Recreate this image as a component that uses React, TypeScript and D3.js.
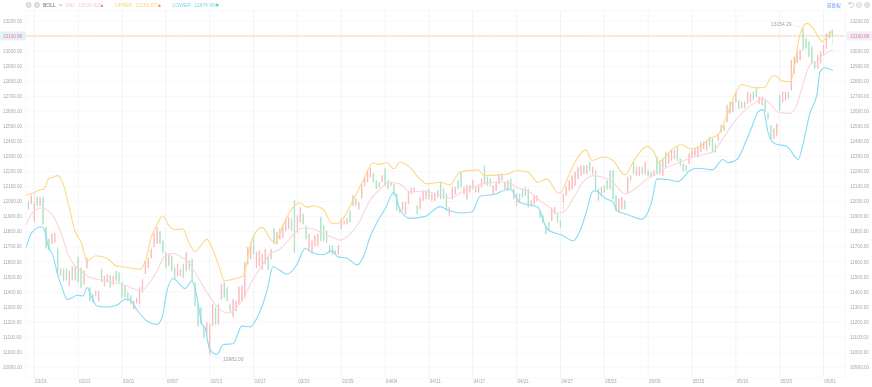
import React from "react";
import * as d3 from "d3";

const opens = [
  12000,11985,11870,12030,11975,12030,11830,11750,11720,11730,
  11685,11510,11550,11550,11440,11570,11480,11630,11560,11450,
  11560,11430,11385,11375,11340,11550,11440,11465,11510,11450,
  11540,11530,11465,11440,11395,11375,11285,11325,11320,11400,
  11520,11560,11625,11700,11720,11800,11740,11662,11575,11640,
  11562,11507,11507,11585,11540,11607,11618,11462,11318,11296,
  11174,11118,10985,11174,11296,11185,11351,11462,11429,11318,
  11234,11274,11318,11340,11363,11585,11618,11767,11562,11573,
  11551,11585,11640,11618,11820,11718,11751,11762,11807,11818,
  11885,12007,11796,11862,11918,11840,11674,11663,11707,11707,
  11896,11840,11807,11707,11707,11651,11651,11818,11851,11851,
  11940,11973,12018,11951,12022,12107,12129,12162,12189,12140,
  12129,12129,12218,12140,12107,12118,12051,11962,11940,11918,
  11984,12051,12062,11973,11951,12007,12018,12084,12007,12007,
  12029,12129,12084,12051,11907,12018,12051,12140,12195,12051,
  12018,12062,12084,12095,12062,12095,12240,12162,12151,12051,
  12073,12118,12184,12084,12140,12151,12084,11973,12051,12084,
  12095,12084,11973,11984,12007,11940,11907,11840,11862,11873,
  11918,11918,11873,11996,12040,12073,12084,12107,12151,12173,
  12240,12184,12262,12184,12206,12084,12040,12107,12140,12206,
  12206,12040,11929,11951,12007,12051,12140,12262,12173,12173,
  12229,12184,12206,12195,12173,12295,12273,12173,12329,12251,
  12273,12284,12362,12284,12251,12240,12251,12295,12306,12296,
  12329,12351,12340,12429,12418,12384,12406,12462,12506,12529,
  12662,12595,12662,12673,12622,12662,12651,12662,12728,12751,
  12651,12640,12673,12589,12506,12418,12440,12706,12662,12673,
  12728,12740,12851,12922,12940,13151,13084,13062,13029,12929,
  12884,12918,12973,13018,13129,13140,
];
const closes = [
  11950,12040,11990,11975,12025,11850,11690,11680,11785,11790,
  11520,11555,11475,11480,11540,11480,11570,11465,11430,11540,
  11625,11340,11330,11405,11405,11465,11505,11515,11430,11505,
  11475,11465,11365,11365,11340,11320,11340,11360,11430,11485,
  11605,11625,11685,11790,11829,11720,11662,11562,11651,11540,
  11485,11585,11551,11496,11662,11551,11474,11307,11174,11190,
  11096,11196,11185,11318,11185,11318,11451,11363,11340,11274,
  11351,11340,11434,11440,11596,11696,11729,11651,11662,11673,
  11651,11684,11551,11684,11720,11796,11818,11840,11885,11896,
  11807,11663,11907,11962,11851,11751,11785,11740,11774,11785,
  11740,11740,11729,11663,11651,11674,11711,11885,11873,11885,
  11862,12040,11973,11996,12118,12162,12195,12224,12129,12084,
  12095,12173,12107,12084,12129,12040,11940,11929,11996,11996,
  12062,12091,12091,11918,12029,12073,12073,12018,12051,12051,
  12073,12018,12018,11940,11962,12095,12095,12084,12095,12095,
  12107,12107,12140,12062,12107,12151,12118,12107,12107,12107,
  12129,12184,12140,12129,12073,12084,12018,12051,11996,12029,
  12040,11962,12007,12040,12040,11896,11862,11785,11807,11958,
  11962,11862,11829,12051,12100,12140,12173,12195,12229,12240,
  12184,12240,12206,12229,12073,12007,12095,12062,12084,12084,
  12018,11940,12018,12029,11951,12162,12173,12184,12229,12229,
  12184,12262,12173,12162,12206,12184,12184,12284,12229,12318,
  12344,12344,12273,12240,12206,12206,12318,12340,12351,12362,
  12395,12395,12406,12367,12329,12329,12451,12506,12473,12640,
  12584,12662,12728,12617,12662,12622,12728,12717,12677,12695,
  12695,12695,12595,12551,12418,12484,12517,12606,12728,12728,
  12684,12940,12962,12995,13007,13007,13018,12962,12918,12884,
  12973,12995,13040,13118,13084,13100.98,
];
const highs = [
  12010,12050,12062,12040,12030,12040,11840,11760,11790,11795,
  11700,11560,11560,11560,11545,11575,11575,11635,11565,11550,
  11630,11435,11390,11410,11410,11560,11510,11520,11515,11510,
  11545,11535,11470,11445,11400,11380,11345,11365,11435,11490,
  11610,11630,11695,11795,11835,11810,11745,11670,11655,11645,
  11570,11590,11556,11590,11668,11612,11625,11470,11325,11300,
  11180,11200,11190,11325,11300,11325,11456,11470,11435,11325,
  11356,11345,11440,11445,11600,11700,11735,11772,11668,11680,
  11655,11690,11645,11690,11825,11800,11825,11845,11890,11900,
  11890,12012,11912,11968,11925,11845,11790,11745,11780,11790,
  11900,11845,11812,11712,11712,11680,11716,11890,11878,11890,
  11945,12045,12025,12000,12125,12168,12200,12228,12195,12145,
  12135,12178,12225,12145,12135,12125,12055,11968,12000,12000,
  12068,12095,12098,11980,12035,12080,12078,12090,12056,12056,
  12078,12135,12090,12056,11968,12100,12100,12145,12200,12100,
  12112,12112,12145,12100,12112,12156,12245,12168,12156,12112,
  12135,12190,12190,12135,12145,12156,12090,12056,12056,12090,
  12100,12090,12012,12045,12045,11945,11912,11845,11868,11962,
  11968,11925,11880,12056,12105,12145,12180,12200,12235,12245,
  12245,12245,12268,12235,12212,12090,12100,12112,12145,12212,
  12212,12045,12025,12035,12012,12168,12178,12268,12235,12235,
  12235,12268,12212,12200,12212,12300,12280,12290,12335,12325,
  12350,12350,12368,12290,12258,12245,12325,12346,12356,12368,
  12400,12400,12412,12435,12425,12390,12456,12512,12512,12646,
  12668,12668,12735,12680,12668,12668,12735,12722,12735,12758,
  12700,12700,12680,12595,12512,12490,12522,12712,12735,12735,
  12735,12945,12968,13000,13012,13154.29,13090,13068,13035,12935,
  12978,13000,13045,13124,13135,13150,
];
const lows = [
  11945,11980,11860,11970,11970,11845,11680,11675,11715,11725,
  11515,11505,11470,11470,11435,11470,11470,11460,11425,11445,
  11555,11335,11325,11370,11335,11460,11435,11460,11425,11445,
  11470,11460,11360,11360,11335,11315,11280,11320,11300,11395,
  11515,11555,11620,11695,11715,11715,11655,11555,11570,11535,
  11480,11500,11500,11490,11535,11545,11470,11300,11170,11185,
  11090,11110,10982,11170,11180,11180,11345,11358,11335,11268,
  11228,11270,11312,11335,11358,11580,11612,11645,11556,11568,
  11545,11580,11545,11612,11715,11712,11745,11755,11800,11812,
  11800,11658,11790,11856,11845,11745,11668,11658,11700,11700,
  11735,11735,11725,11658,11645,11645,11645,11812,11845,11845,
  11855,11968,11968,11945,12018,12100,12125,12158,12125,12080,
  12090,12125,12100,12080,12100,12035,11935,11925,11935,11912,
  11980,12045,12055,11912,11945,12000,12012,12012,12000,12000,
  12025,12012,12012,11935,11900,12012,12045,12080,12090,12045,
  12012,12056,12080,12056,12056,12090,12112,12100,12100,12045,
  12068,12112,12135,12078,12068,12078,12012,11968,11990,12025,
  12035,11958,11968,11980,12000,11890,11856,11780,11800,11868,
  11912,11856,11825,11940,12035,12068,12078,12100,12145,12168,
  12178,12178,12200,12178,12068,12000,12035,12056,12078,12078,
  12012,11935,11925,11945,11945,12045,12135,12178,12168,12168,
  12178,12178,12168,12156,12168,12178,12178,12168,12225,12245,
  12268,12278,12268,12235,12200,12200,12245,12290,12300,12290,
  12325,12345,12335,12362,12325,12325,12400,12456,12468,12525,
  12578,12590,12656,12612,12617,12617,12645,12656,12672,12690,
  12645,12635,12590,12545,12412,12412,12435,12600,12656,12668,
  12678,12735,12845,12918,12935,13000,13012,12955,12912,12878,
  12880,12912,12968,13012,13078,13040,
];

// Band readings: [bar position, value]
const upperBand: [number, number][] = [
  [-0.8,12044],[2,12060],[4,12078],[5.4,12085],[7,12155],[8,12160],[10,12173],[12,12110],[14,11955],[16,11800],
  [18,11733],[20,11607],[23,11640],[27,11622],[30,11573],[32,11567],[35,11558],[38,11551],[40,11607],[42,11762],
  [44,11850],[46,11906],[47.7,11850],[50,11813],[52.9,11818],[54.6,11740],[57,11667],[59.4,11718],[61,11751],[63,11684],
  [65.5,11551],[67,11473],[70,11484],[73.4,11507],[76.5,11750],[79.9,11829],[83.3,11740],[84.3,11729],[87,11840],[90.5,11962],
  [92.9,11991],[95.3,11962],[97.4,11973],[100.7,11951],[103.8,11856],[105.9,11856],[108.3,11907],[111,12007],[114.5,12140],[117.9,12258],
  [119.6,12247],[122.7,12258],[125,12218],[127,12262],[130.5,12229],[133.3,12162],[136.4,12118],[140.8,12129],[144.2,12111],[147.6,12196],
  [151,12207],[153.8,12211],[156,12173],[161.3,12178],[164.7,12189],[167,12207],[170.9,12196],[174.3,12129],[177.4,12151],[180.8,12062],
  [181.8,12056],[185.3,12196],[188,12296],[190.7,12344],[192.8,12273],[196.6,12296],[200,12273],[204,12178],[207.5,12284],[211.6,12367],
  [214.3,12318],[215.4,12262],[217.8,12296],[220,12344],[223.6,12378],[226.3,12351],[229.7,12367],[233,12418],[236,12447],[238.3,12540],
  [240,12629],[242.4,12740],[244,12778],[247,12762],[249.6,12756],[252,12762],[253.7,12818],[255.4,12838],[257.8,12802],[260.5,12796],
  [262.3,12918],[263.3,13051],[264.7,13151],[266.4,13184],[268,13162],[269.8,13107],[271.5,13062],[273.2,13096],[275.2,13140],
];
const midBand: [number, number][] = [
  [-0.8,11845],[1.5,11930],[4.6,11958],[6.7,11940],[9,11887],[11.5,11773],[13.5,11651],[15.9,11573],[18.7,11529],[21,11496],
  [23.8,11484],[27,11473],[30.3,11458],[33,11445],[36.4,11418],[38.8,11411],[40.9,11447],[44,11540],[46.7,11640],[49.5,11656],
  [52.5,11629],[55.3,11584],[57.7,11507],[60.4,11418],[63,11340],[65.5,11284],[67.9,11258],[70,11273],[73,11340],[76.5,11473],
  [80.2,11584],[82.6,11651],[86,11684],[88.8,11740],[91.9,11807],[93.9,11824],[97.4,11818],[100.8,11789],[104.2,11762],[106.6,11744],
  [110,11784],[113.4,11873],[116.8,12007],[120.3,12084],[123.7,12129],[127,12118],[130.5,12066],[135,12069],[139.8,12051],[144.2,12024],
  [147.6,12056],[152,12096],[155.5,12118],[160,12129],[163.7,12129],[167,12096],[171.6,12062],[175,12007],[178.4,11960],[180.8,11924],
  [182.9,11929],[186.3,12018],[189.7,12129],[193,12173],[196.6,12162],[200,12129],[204,12051],[208,12091],[211.6,12151],[215,12184],
  [218.5,12229],[223,12262],[226.3,12290],[229.7,12307],[234,12329],[237.6,12418],[241,12518],[244.5,12596],[248,12651],[251.3,12684],
  [253.7,12651],[256.4,12596],[260.5,12586],[263,12651],[265,12784],[267.3,12907],[269.8,12940],[271.8,12973],[275.2,13007],
];
const lowerBand: [number, number][] = [
  [-0.8,11696],[1.2,11796],[4.6,11833],[5.7,11796],[6.7,11707],[8.4,11640],[9.8,11529],[11.5,11429],[13.2,11351],[14.9,11362],
  [16.6,11378],[18.7,11373],[20,11429],[21.7,11362],[23.4,11307],[26.9,11300],[30.3,11313],[33,11351],[34.7,11348],[37.1,11280],
  [40.5,11207],[44,11184],[45.7,11229],[47.4,11407],[49.5,11489],[51.2,11462],[53.6,11422],[55.9,11473],[57.7,11362],[59.4,11184],
  [60.4,11162],[62,11018],[64.5,10984],[66.6,11051],[70,11056],[73,11173],[75.8,11167],[78.5,11240],[81.6,11407],[83.7,11569],
  [85.4,11551],[88.5,11518],[91.9,11584],[94.6,11689],[97,11662],[100.8,11647],[103.8,11673],[105.9,11633],[109,11624],[112.4,11580],
  [114.5,11629],[116.8,11762],[119.2,11862],[122,11951],[125,12062],[127,11951],[130.5,11889],[135.7,11902],[140.8,11967],[143.5,11944],
  [147.6,11924],[151.8,11933],[154.5,12036],[159,12047],[164.7,12084],[168,11996],[174.3,11962],[177.4,11818],[182.9,11773],[186.3,11740],
  [188.7,11807],[191,11940],[192.8,12062],[193.9,12073],[197.2,12024],[200,11996],[201.3,11940],[205,11913],[209.9,11884],[211.6,11918],
  [213.3,12007],[215,12151],[218.5,12147],[222.2,12133],[226.3,12207],[229,12222],[234,12211],[237.6,12280],[239.3,12258],[242.4,12280],
  [245.1,12384],[247.5,12496],[249.6,12596],[251.3,12611],[253,12462],[255.4,12384],[259.5,12367],[262.3,12296],[263.3,12280],[265,12384],
  [267.3,12584],[269.8,12718],[270.8,12862],[272.5,12889],[275.2,12871],
];

const priceTicks = [13200,13100,13000,12900,12800,12700,12600,12500,12400,12300,12200,12100,12000,11900,11800,11700,11600,11500,11400,11300,11200,11100,11000,10900];
const dateLabels = ["02/16","02/23","03/01","03/07","03/13","03/17","03/23","03/29","04/04","04/11","04/17","04/21","04/27","05/03","05/09","05/15","05/19","05/25","06/01"];
const dateBars = [2,17,32,47,62,77,92,107,122,137,152,167,182,197,212,227,242,257,272];
const lastPrice = 13100.98;
const highBar = 265;
const highValue = 13154.29;
const lowBar = 62;
const lowValue = 10982.0;

const W = 872, H = 387;
const plotLeft = 25.7, plotRight = 845, plotTop = 10.5, plotBottom = 378;
const FONT = "'Liberation Sans', Arial, sans-serif";
const TXT = "#a3a8b0";

const x = d3.scaleLinear().domain([0, 275]).range([28.46, 832.3]);
const y = d3.scaleLinear().domain([10900, 13200]).range([367.2, 21]);

const RED = "#fabcbc";
const GREEN = "#aee3c5";

function bandPath(pts: [number, number][]) {
  return d3.line<[number, number]>()
    .x((d) => x(d[0]))
    .y((d) => y(d[1]))
    .curve(d3.curveMonotoneX)(pts) as string;
}

const tri = (cx: number, cy: number, up: boolean, c: string) => (
  <path d={up ? `M${cx - 1.4} ${cy + 1.2}L${cx + 1.4} ${cy + 1.2}L${cx} ${cy - 1.2}Z` : `M${cx - 1.4} ${cy - 1.2}L${cx + 1.4} ${cy - 1.2}L${cx} ${cy + 1.2}Z`} fill={c} />
);

export default function App() {
  const bw = 1.3;
  return (
    <svg
      width={W}
      height={H}
      viewBox={`0 0 ${W} ${H}`}
      style={{ position: "fixed", left: 0, top: 0, background: "#fff", filter: "blur(0.4px)" }}
      fontFamily={FONT}
    >
      <g stroke="#f4f6f9" strokeWidth={0.8}>
        {priceTicks.map((t) => (
          <line key={t} x1={plotLeft} x2={plotRight} y1={y(t)} y2={y(t)} />
        ))}
        <line x1={plotLeft} x2={plotRight} y1={plotTop} y2={plotTop} />
        <line x1={plotLeft} x2={plotRight} y1={plotBottom} y2={plotBottom} />
        <line x1={plotLeft} x2={plotLeft} y1={plotTop} y2={plotBottom} />
        <line x1={plotRight} x2={plotRight} y1={plotTop} y2={plotBottom} />
      </g>
      <g stroke="#eef1f5" strokeWidth={0.8}>
        {dateBars.map((b) => (
          <line key={b} x1={x(b)} x2={x(b)} y1={plotTop} y2={plotBottom} />
        ))}
      </g>

      <g>
        {opens.map((o, i) => {
          const c = closes[i];
          const col = c >= o ? RED : GREEN;
          const top = y(Math.max(o, c));
          const bot = y(Math.min(o, c));
          return (
            <g key={i}>
              <line x1={x(i)} x2={x(i)} y1={y(highs[i])} y2={y(lows[i])} stroke={col} strokeWidth={0.5} />
              <rect x={x(i) - bw / 2} y={top} width={bw} height={Math.max(0.6, bot - top)} fill={col} />
            </g>
          );
        })}
      </g>

      <g fill="none" strokeWidth={1.1}>
        <path d={bandPath(midBand)} stroke="#fcd5de" />
        <path d={bandPath(upperBand)} stroke="#fdd988" />
        <path d={bandPath(lowerBand)} stroke="#88daf6" />
      </g>

      <line x1={plotLeft} x2={plotRight} y1={y(lastPrice)} y2={y(lastPrice)} stroke="#fbbf85" strokeWidth={0.8} strokeDasharray="2 0.6" />

      <line x1={x(highBar)} y1={y(highValue)} x2={791} y2={24.5} stroke="#e4e6ea" strokeWidth={0.5} />
      <text x={771} y={26} fontSize={4.9} fill="#9ca0a8">{highValue.toFixed(2)}</text>
      <line x1={x(lowBar)} y1={y(lowValue)} x2={222} y2={358.5} stroke="#e4e6ea" strokeWidth={0.5} />
      <text x={223} y={360.6} fontSize={4.9} fill="#9ca0a8">{lowValue.toFixed(2)}</text>

      <g fontSize={4.6} fill={TXT}>
        {priceTicks.map((t) => (
          <text key={t} x={3} y={y(t) + 1.7}>{t.toFixed(2)}</text>
        ))}
        {priceTicks.map((t) => (
          <text key={"r" + t} x={850} y={y(t) + 1.7}>{t.toFixed(2)}</text>
        ))}
        {dateBars.map((b, i) => (
          <text key={b} x={x(b) + 0.8} y={383.3}>{dateLabels[i]}</text>
        ))}
      </g>

      <rect x={0} y={y(lastPrice) - 4.5} width={plotLeft} height={9} fill="#e3f1fd" />
      <rect x={846} y={y(lastPrice) - 4.5} width={26} height={9} fill="#f0f0fa" />
      <text x={3} y={y(lastPrice) + 1.7} fontSize={4.6} fill="#ee7a7a">{lastPrice.toFixed(2)}</text>
      <text x={850} y={y(lastPrice) + 1.7} fontSize={4.6} fill="#ee7a7a">{lastPrice.toFixed(2)}</text>

      <g stroke="#a8adb6" fill="#e6e8ec" strokeWidth={0.6}>
        <circle cx={28.7} cy={5} r={2.4} />
        <circle cx={37} cy={5} r={2.4} />
      </g>
      <g fontSize={5}>
        <text x={43} y={6.8} fill="#6d7179">BOLL</text>
        <path d="M59 4.2L60.6 5.8L62.2 4.2" fill="none" stroke="#8a8f97" strokeWidth={0.7} />
        <text x={65.5} y={6.8} fill="#fcc8d6">MID</text>
        <text x={78} y={6.8} fill="#fcc8d6">13036.920</text>
        {tri(102, 5.5, true, "#ee6a6a")}
        <text x={115} y={6.8} fill="#fdd27c">UPPER</text>
        <text x={135.5} y={6.8} fill="#fdd27c">13162.877</text>
        {tri(159.5, 5.5, true, "#ee6a6a")}
        <text x={172.5} y={6.8} fill="#7fd3f2">LOWER</text>
        <text x={194} y={6.8} fill="#7fd3f2">12874.964</text>
        {tri(217.5, 5.5, false, "#4cc06e")}
        <text x={827} y={7} fill="#5b8ff0" fontFamily="'Noto Sans CJK SC', sans-serif" fontSize={4.6}>前复权</text>
      </g>
      <g fill="none" stroke="#b0b4bb" strokeWidth={0.6}>
        <path d="M849 3.5A2.6 2.6 0 1 1 850 7.5" />
        <path d="M849 2V4H851" />
        <circle cx={859} cy={5} r={2.5} />
        <line x1={857.8} x2={860.2} y1={5} y2={5} />
        <circle cx={867} cy={5} r={2.5} />
        <circle cx={867} cy={5} r={0.9} />
      </g>
    </svg>
  );
}
